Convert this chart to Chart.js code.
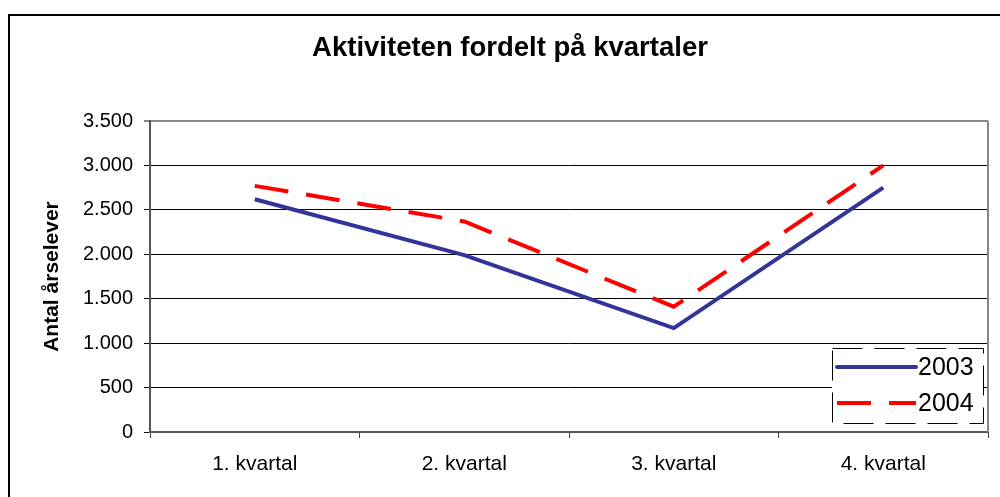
<!DOCTYPE html>
<html>
<head>
<meta charset="utf-8">
<script src="https://cdn.jsdelivr.net/npm/chart.js@4.4.0/dist/chart.umd.min.js"></script>
<style>
  body { margin: 0; background: #fff; }
  canvas { display: block; }
</style>
</head>
<body>
<canvas id="myChart" width="1000" height="497"></canvas>
<script>
// data
var categories = ["1. kvartal", "2. kvartal", "3. kvartal", "4. kvartal"];
var values2003 = [2620, 1990, 1170, 2750];
var values2004 = [2770, 2370, 1410, 3000];
var seriesNames = ["2003", "2004"];
var yMin = 0, yMax = 3500, yStep = 500;

var fontFamily = "'Liberation Sans', Arial, sans-serif";

function thousands(v) {
  return String(v).replace(/\B(?=(\d{3})+(?!\d))/g, ".");
}

// white background + outer frame + grey plot frame on the right
var framePlugin = {
  id: "frame",
  beforeDraw: function (chart) {
    var ctx = chart.ctx;
    ctx.save();
    ctx.fillStyle = "#fff";
    ctx.fillRect(0, 0, chart.width, chart.height);
    ctx.strokeStyle = "#000";
    ctx.lineWidth = 2;
    ctx.strokeRect(9, 15, 1000, 500);
    ctx.restore();
  },
  beforeDatasetsDraw: function (chart) {
    var a = chart.chartArea;
    var ctx = chart.ctx;
    ctx.save();
    ctx.strokeStyle = "#888";
    ctx.lineWidth = 2;
    ctx.beginPath();
    ctx.moveTo(a.right, a.top);
    ctx.lineTo(a.right, a.bottom);
    ctx.stroke();
    ctx.restore();
  }
};

// legend box drawn inside the plot, bottom right
var boxLegend = {
  id: "boxLegend",
  afterDraw: function (chart) {
    var ctx = chart.ctx;
    var x = 832, y = 348, w = 151, h = 75;
    ctx.save();
    ctx.fillStyle = "#fff";
    ctx.fillRect(x, y, w, h);
    ctx.strokeStyle = "#000";
    ctx.lineWidth = 1;
    ctx.setLineDash([30, 12]);
    ctx.strokeRect(x + 0.5, y + 0.5, w, h);
    chart.data.datasets.forEach(function (ds, i) {
      var ly = y + 19 + i * 36;
      ctx.strokeStyle = ds.borderColor;
      ctx.lineWidth = ds.borderWidth;
      ctx.setLineDash(ds.borderDash || []);
      ctx.lineCap = ds.borderDash ? "butt" : "round";
      ctx.beginPath();
      ctx.moveTo(x + 5, ly);
      ctx.lineTo(x + 84, ly);
      ctx.stroke();
      ctx.setLineDash([]);
      ctx.fillStyle = "#000";
      ctx.font = "25px " + fontFamily;
      ctx.textBaseline = "middle";
      ctx.textAlign = "left";
      ctx.fillText(ds.label, x + 86, ly + 1);
    });
    ctx.restore();
  }
};

var ctx = document.getElementById("myChart").getContext("2d");
var chart = new Chart(ctx, {
  type: "line",
  data: {
    labels: categories,
    datasets: [
      {
        label: seriesNames[0],
        data: values2003,
        borderColor: "#333399",
        borderWidth: 4,
        pointRadius: 0,
        tension: 0,
        fill: false
      },
      {
        label: seriesNames[1],
        data: values2004,
        borderColor: "#ff0000",
        borderWidth: 4,
        borderDash: [34, 18],
        pointRadius: 0,
        tension: 0,
        fill: false
      }
    ]
  },
  options: {
    responsive: false,
    animation: false,
    devicePixelRatio: 1,
    layout: {
      padding: { left: 32, right: 12, top: 0, bottom: 0 }
    },
    plugins: {
      legend: { display: false },
      tooltip: { enabled: false },
      title: {
        display: true,
        text: "Aktiviteten fordelt på kvartaler",
        color: "#000",
        font: { family: fontFamily, size: 27.5, weight: "bold", lineHeight: 1.2 },
        padding: { top: 32, bottom: 56 }
      }
    },
    scales: {
      x: {
        offset: true,
        grid: {
          offset: true,
          drawOnChartArea: false,
          drawTicks: true,
          tickLength: 6,
          color: "#444"
        },
        border: { color: "#555", width: 2 },
        ticks: {
          color: "#000",
          padding: 14,
          maxRotation: 0,
          font: { family: fontFamily, size: 21 }
        },
        afterFit: function (scale) {
          scale.height = 65;
        }
      },
      y: {
        min: yMin,
        max: yMax,
        grid: {
          tickLength: 6,
          color: function (c) {
            return c.tick && c.tick.value === yMax ? "#888" : "#000";
          },
          lineWidth: function (c) {
            return c.tick && c.tick.value === yMax ? 2 : 1;
          }
        },
        border: { color: "#555", width: 2 },
        ticks: {
          stepSize: yStep,
          color: "#000",
          padding: 11,
          font: { family: fontFamily, size: 20 },
          callback: function (v) { return thousands(v); }
        },
        title: {
          display: true,
          text: "Antal årselever",
          color: "#000",
          font: { family: fontFamily, size: 21, weight: "bold", lineHeight: 1.2 },
          padding: { top: 8, bottom: 0 }
        },
        afterFit: function (scale) {
          scale.width = 118;
        }
      }
    }
  },
  plugins: [framePlugin, boxLegend]
});
</script>
</body>
</html>
